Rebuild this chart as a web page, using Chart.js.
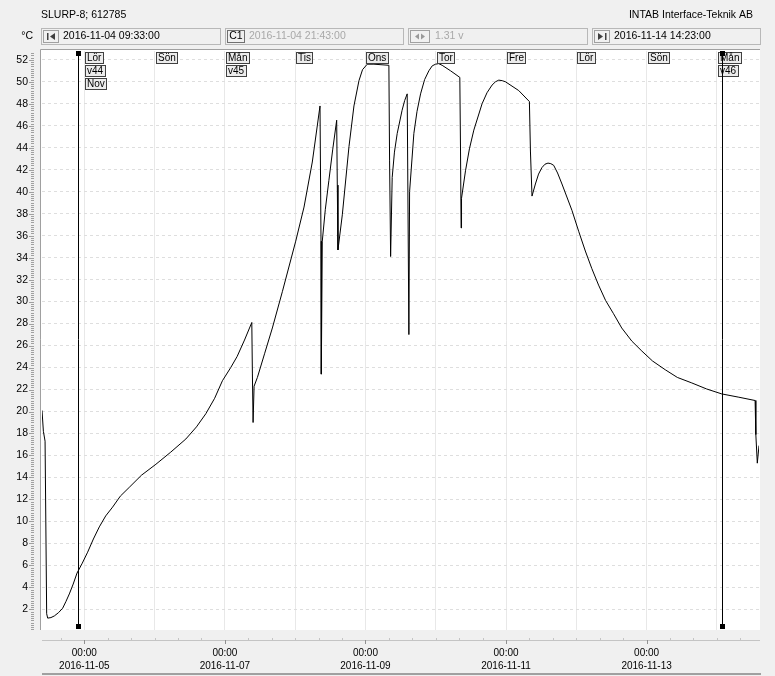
<!DOCTYPE html>
<html>
<head>
<meta charset="utf-8">
<script src="https://cdn.jsdelivr.net/npm/chart.js@4.4.0/dist/chart.umd.min.js"></script>
<style>
  html, body { margin: 0; padding: 0; background: #f0f0f0; }
  canvas { display: block; }
</style>
</head>
<body>
<canvas id="chart" width="775" height="676"></canvas>
<script>
// time in hours after 2016-11-05 00:00, temperature in °C
const hours = [
  -14.45, -13.98, -13.40, -12.86, -12.51, -11.40, -10.23, -8.80, -7.40, -6.30,
  -5.12, -3.80, -2.49, -0.70, 1.13, 3.10, 5.12, 7.30, 9.65, 12.30,
  15.35, 19.50, 24.45, 29.50, 34.68, 38.30, 41.50, 44.50, 47.16, 50.00,
  52.17, 54.70, 57.19, 57.39, 57.63, 57.97, 59.10, 61.60, 64.21, 67.62,
  72.19, 75.02, 77.85, 80.48, 80.82, 80.92, 81.26, 82.30, 83.50, 84.80,
  86.17, 86.38, 86.61, 88.10, 90.37, 92.07, 93.78, 95.00, 96.61, 98.89,
  104.00, 104.24, 104.59, 105.13, 105.90, 106.84, 108.50, 109.40, 110.25, 110.83,
  111.07, 112.53, 113.60, 114.82, 116.20, 117.65, 118.80, 119.93, 121.00, 122.18,
  125.05, 128.22, 128.46, 128.66, 128.80, 130.16, 131.50, 133.00, 135.82, 137.50,
  139.23, 140.40, 141.52, 142.70, 143.80, 148.34, 151.98, 152.33, 152.87, 154.03,
  155.10, 156.28, 157.30, 158.33, 159.30, 160.27, 161.60, 163.10, 166.51, 168.80,
  171.08, 173.30, 175.60, 178.00, 180.70, 183.50, 186.97, 190.38, 194.00, 198.36,
  202.50, 207.43, 212.50, 217.66, 223.50, 229.05, 229.30, 229.80, 230.38
];
const temps = [
  20.1, 18.2, 17.3, 1.6, 1.2, 1.25, 1.4, 1.7, 2.1, 2.7,
  3.4, 4.3, 5.3, 6.2, 7.2, 8.4, 9.5, 10.5, 11.3, 12.3,
  13.1, 14.2, 15.2, 16.3, 17.5, 18.6, 19.8, 21.2, 22.8, 24.0,
  25.0, 26.5, 28.1, 23.5, 19.0, 22.3, 23.1, 25.3, 27.6, 30.9,
  35.5, 38.6, 42.7, 47.8, 35.5, 23.4, 35.5, 38.4, 41.0, 43.8,
  46.5, 40.6, 34.7, 37.9, 44.1, 47.8, 50.1, 51.1, 51.6, 51.6,
  51.5, 42.8, 34.1, 41.3, 43.6, 45.3, 47.4, 48.3, 48.9, 27.0,
  40.0, 45.3, 47.3, 48.9, 50.2, 51.0, 51.45, 51.6, 51.65, 51.5,
  51.0, 50.4, 43.7, 36.7, 39.4, 41.9, 43.9, 45.6, 48.0, 49.0,
  49.7, 50.0, 50.15, 50.1, 50.0, 49.2, 48.2, 43.7, 39.6, 40.7,
  41.6, 42.2, 42.5, 42.6, 42.55, 42.4, 41.7, 40.7, 38.3, 36.4,
  34.6, 33.0, 31.5, 30.1, 28.9, 27.6, 26.4, 25.5, 24.6, 23.8,
  23.1, 22.6, 22.05, 21.6, 21.3, 21.0, 17.9, 15.3, 16.9
];

const yTicks = [2, 4, 6, 8, 10, 12, 14, 16, 18, 20, 22, 24, 26, 28, 30, 32, 34, 36, 38, 40, 42, 44, 46, 48, 50, 52];
const dayHours = [0, 24, 48, 72, 96, 120, 144, 168, 192, 216];
const dayNames = ['Lör', 'Sön', 'Mån', 'Tis', 'Ons', 'Tor', 'Fre', 'Lör', 'Sön', 'Mån'];
const weekTags = ['v44', '', 'v45', '', '', '', '', '', '', 'v46'];
const monthTags = ['Nov', '', '', '', '', '', '', '', '', ''];
const dateLabels = ['2016-11-05', '', '2016-11-07', '', '2016-11-09', '', '2016-11-11', '', '2016-11-13', ''];
const cursorHours = [-2.283, 217.8];

const FONT = '"Liberation Sans", Arial, sans-serif';

function text(ctx, s, x, y, color, align) {
  ctx.fillStyle = color;
  ctx.textAlign = align || 'left';
  ctx.textBaseline = 'middle';
  ctx.fillText(s, x, y);
}

function box(ctx, x1, y1, x2, y2, stroke, fill) {
  if (fill) { ctx.fillStyle = fill; ctx.fillRect(x1, y1, x2 - x1, y2 - y1); }
  ctx.strokeStyle = stroke;
  ctx.lineWidth = 1;
  ctx.strokeRect(x1 + 0.5, y1 + 0.5, x2 - x1 - 1, y2 - y1 - 1);
}

function drawHeader(ctx) {
  ctx.font = '10.5px ' + FONT;
  text(ctx, 'SLURP-8; 612785', 41, 15, '#000');
  text(ctx, 'INTAB Interface-Teknik AB', 753, 15, '#000', 'right');
  text(ctx, '°C', 33, 36, '#000', 'right');

  // range boxes
  box(ctx, 41, 28, 221, 45, '#b8b8b8');
  box(ctx, 225, 28, 404, 45, '#b8b8b8');
  box(ctx, 408, 28, 588, 45, '#b8b8b8');
  box(ctx, 592, 28, 761, 45, '#b8b8b8');

  // icon boxes
  box(ctx, 43, 30, 59, 43, '#a0a0a0');
  box(ctx, 227, 30, 245, 43, '#707070');
  box(ctx, 410, 30, 430, 43, '#a0a0a0');
  box(ctx, 594, 30, 610, 43, '#a0a0a0');

  ctx.fillStyle = '#404040';
  ctx.fillRect(47, 33, 1.5, 7);
  ctx.beginPath(); ctx.moveTo(55, 33); ctx.lineTo(50, 36.5); ctx.lineTo(55, 40); ctx.fill();
  ctx.fillRect(605, 33, 1.5, 7);
  ctx.beginPath(); ctx.moveTo(598, 33); ctx.lineTo(603, 36.5); ctx.lineTo(598, 40); ctx.fill();
  ctx.fillStyle = '#999';
  ctx.beginPath(); ctx.moveTo(419, 33.5); ctx.lineTo(415, 36.5); ctx.lineTo(419, 39.5); ctx.fill();
  ctx.beginPath(); ctx.moveTo(421, 33.5); ctx.lineTo(425, 36.5); ctx.lineTo(421, 39.5); ctx.fill();

  text(ctx, '2016-11-04 09:33:00', 63, 36.5, '#000');
  text(ctx, 'C1', 236, 36.5, '#000', 'center');
  text(ctx, '2016-11-04 21:43:00', 249, 36.5, '#a8a8a8');
  text(ctx, '1.31 v', 435, 36.5, '#a8a8a8');
  text(ctx, '2016-11-14 14:23:00', 614, 36.5, '#000');
}

const frame = {
  id: 'frame',
  beforeDraw(chart) {
    const {ctx, chartArea: a, scales} = chart;
    ctx.save();
    ctx.fillStyle = '#f0f0f0';
    ctx.fillRect(0, 0, chart.width, chart.height);
    ctx.fillStyle = '#fff';
    ctx.fillRect(a.left - 1, a.top - 1, a.right - a.left + 2, a.bottom - a.top + 1);
    ctx.strokeStyle = '#a0a0a0';
    ctx.lineWidth = 1;
    ctx.beginPath();
    ctx.moveTo(a.left - 1.5, a.bottom);
    ctx.lineTo(a.left - 1.5, a.top - 1.5);
    ctx.lineTo(a.right + 1, a.top - 1.5);
    ctx.stroke();

    // y ruler with minor ticks
    const y = scales.y;
    ctx.strokeStyle = '#a0a0a0';
    ctx.beginPath();
    for (let v = 0.2; v <= 52.7; v += 0.2) {
      const py = Math.round(y.getPixelForValue(v)) + 0.5;
      const major = Math.abs(v / 2 - Math.round(v / 2)) < 0.01;
      ctx.moveTo(major ? 29 : 31, py);
      ctx.lineTo(34, py);
    }
    ctx.stroke();

    // x ruler under the plot
    const x = scales.x;
    ctx.strokeStyle = '#c4c4c4';
    ctx.beginPath();
    ctx.moveTo(a.left, 640.5);
    ctx.lineTo(a.right + 1, 640.5);
    ctx.stroke();
    for (let h = -8; h <= 224; h += 8) {
      const px = Math.round(x.getPixelForValue(h)) + 0.5;
      const major = h % 48 === 0;
      ctx.strokeStyle = major ? '#909090' : '#c4c4c4';
      ctx.beginPath();
      ctx.moveTo(px, major ? 640 : 638);
      ctx.lineTo(px, major ? 644 : 641);
      ctx.stroke();
    }
    ctx.fillStyle = '#a0a0a0';
    ctx.fillRect(a.left, 673, a.right - a.left + 2, 2);

    drawHeader(ctx);
    ctx.restore();
  },
  afterDatasetsDraw(chart) {
    const {ctx, chartArea: a, scales} = chart;
    const x = scales.x;
    ctx.save();
    ctx.font = '10px ' + FONT;
    const rows = [dayNames, weekTags, monthTags];
    dayHours.forEach((h, i) => {
      const px = Math.round(x.getPixelForValue(h)) + 1;
      rows.forEach((row, r) => {
        const s = row[i];
        if (!s) return;
        const w = Math.ceil(ctx.measureText(s).width) + 4;
        const top = a.top + 1 + r * 13;
        box(ctx, px, top, px + w, top + 12, '#404040', '#ececec');
        text(ctx, s, px + 2, top + 6.5, '#000');
      });
    });

    // cursors
    ctx.fillStyle = '#000';
    ctx.strokeStyle = '#000';
    cursorHours.forEach(h => {
      const px = Math.round(x.getPixelForValue(h));
      ctx.beginPath();
      ctx.moveTo(px + 0.5, a.top);
      ctx.lineTo(px + 0.5, a.bottom - 2);
      ctx.stroke();
      ctx.fillRect(px - 2, a.top, 5, 5);
      ctx.fillRect(px - 2, a.bottom - 6, 5, 5);
    });
    ctx.restore();
  }
};

new Chart(document.getElementById('chart'), {
  type: 'line',
  data: {
    datasets: [{
      data: hours.map((h, i) => ({x: h, y: temps[i]})),
      borderColor: '#000',
      borderWidth: 1,
      borderJoinStyle: 'bevel',
      pointRadius: 0,
      tension: 0
    }]
  },
  options: {
    responsive: false,
    animation: false,
    devicePixelRatio: 1,
    layout: {padding: {top: 51, right: 16, left: 0, bottom: 0}},
    plugins: {legend: {display: false}, tooltip: {enabled: false}},
    scales: {
      x: {
        type: 'linear',
        min: -14.45,
        max: 230.38,
        afterBuildTicks: s => { s.ticks = dayHours.map(v => ({value: v})); },
        afterFit: s => { s.height = 46; },
        grid: {color: '#e8e8e8', drawTicks: false},
        border: {display: false},
        ticks: {
          autoSkip: false,
          maxRotation: 0,
          padding: 17,
          color: '#000',
          font: {family: FONT, size: 10, lineHeight: 1.25},
          callback: (v, i) => dateLabels[i] ? ['00:00', dateLabels[i]] : ''
        }
      },
      y: {
        min: 0.12,
        max: 52.8,
        afterBuildTicks: s => { s.ticks = yTicks.map(v => ({value: v})); },
        afterFit: s => { s.width = 42; },
        grid: {color: '#dedede', drawTicks: false},
        border: {display: false, dash: [3, 3]},
        ticks: {
          padding: 14,
          color: '#000',
          font: {family: FONT, size: 10.5}
        }
      }
    }
  },
  plugins: [frame]
});
</script>
</body>
</html>
